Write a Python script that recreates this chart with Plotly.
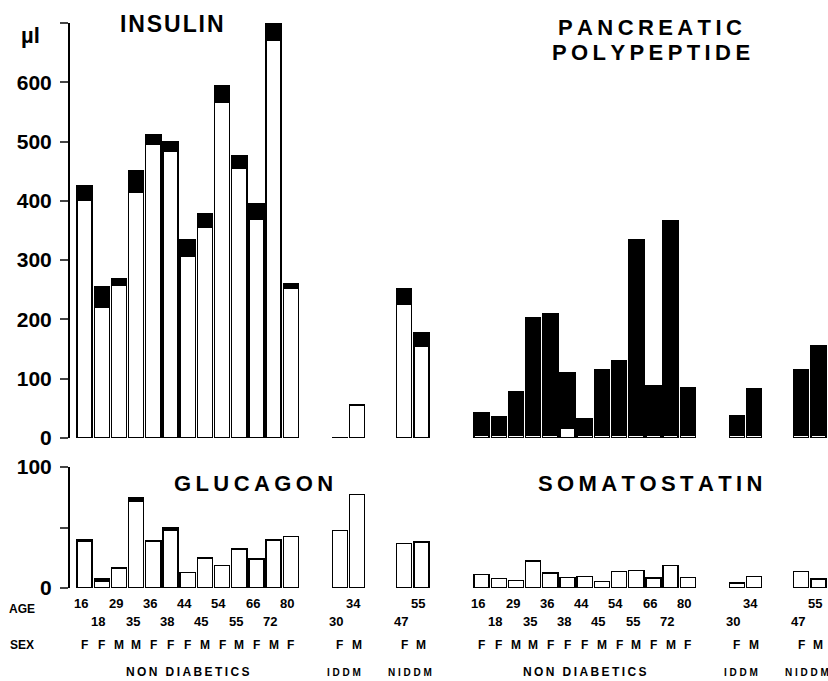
import plotly.graph_objects as go

# ---------------- data ----------------
nd_age = ["16", "18", "29", "35", "36", "38", "44", "45", "54", "55", "66", "72", "80"]
nd_sex = ["F", "F", "M", "M", "F", "F", "F", "M", "F", "M", "F", "M", "F"]
iddm_age = ["30", "34"]
iddm_sex = ["F", "M"]
niddm_age = ["47", "55"]
niddm_sex = ["F", "M"]

# Insulin (µl): white (lower) part and black (upper) part
ins_white_nd = [401, 221, 258, 415, 496, 483, 307, 355, 566, 455, 369, 671, 252]
ins_black_nd = [24, 34, 11, 36, 16, 17, 27, 23, 29, 22, 27, 27, 9]
ins_white_iddm = [1, 56]
ins_black_iddm = [0, 0]
ins_white_niddm = [226, 154]
ins_black_niddm = [25, 23]

# Pancreatic polypeptide
pp_white_nd = [5, 5, 5, 5, 5, 16, 5, 5, 5, 5, 5, 5, 5]
pp_black_nd = [37, 31, 73, 198, 204, 94, 28, 111, 126, 330, 83, 361, 80]
pp_white_iddm = [5, 5]
pp_black_iddm = [32, 79]
pp_white_niddm = [5, 5]
pp_black_niddm = [110, 151]

# Glucagon
glu_white_nd = [38.5, 5.5, 16.4, 72, 39, 47.5, 12.9, 24.7, 18.4, 32.3, 24.1, 39.3, 42.5]
glu_black_nd = [1.8, 1.9, 0, 2.8, 0, 2.1, 0, 0, 0, 0, 0, 1.0, 0]
glu_white_iddm = [47.4, 77.5]
glu_black_iddm = [0, 0]
glu_white_niddm = [37, 38]
glu_black_niddm = [0, 0]

# Somatostatin
som_white_nd = [11, 7.7, 6, 22, 12.3, 8.8, 9.3, 5.5, 13.7, 14.5, 8.2, 18.4, 8.8]
som_black_nd = [0, 0, 0, 0.8, 0, 0, 0, 0, 0, 0, 0, 0, 0]
som_white_iddm = [4, 9.3]
som_black_iddm = [0, 0]
som_white_niddm = [13.7, 7.4]
som_black_niddm = [0, 0]

top_ticks = [0, 100, 200, 300, 400, 500, 600, 700]
top_ticktext = ["0", "100", "200", "300", "400", "500", "600", ""]
bot_ticks = [0, 50, 100]
bot_ticktext = ["0", "", "100"]

group_names = ["NON DIABETICS", "IDDM", "NIDDM"]

# ---------------- layout helpers ----------------
W, H = 828, 681
ND_OFF, IDDM_OFF, NIDDM_OFF = 0.0, 14.85, 18.6
x_nd = [ND_OFF + i for i in range(len(nd_age))]
x_iddm = [IDDM_OFF + i for i in range(len(iddm_age))]
x_niddm = [NIDDM_OFF + i for i in range(len(niddm_age))]
xs = x_nd + x_iddm + x_niddm

FONT = "Liberation Sans"
BAR_W = 0.88
LINE = dict(color="black", width=1.4)

def px(y):
    return 1 - y / H

def spaced(s, sep="\u2009"):
    return sep.join(list(s))

fig = go.Figure()

panels = [
    ("x", "y", ins_white_nd + ins_white_iddm + ins_white_niddm, ins_black_nd + ins_black_iddm + ins_black_niddm),
    ("x2", "y2", pp_white_nd + pp_white_iddm + pp_white_niddm, pp_black_nd + pp_black_iddm + pp_black_niddm),
    ("x3", "y3", glu_white_nd + glu_white_iddm + glu_white_niddm, glu_black_nd + glu_black_iddm + glu_black_niddm),
    ("x4", "y4", som_white_nd + som_white_iddm + som_white_niddm, som_black_nd + som_black_iddm + som_black_niddm),
]
for xa, ya, white, black in panels:
    fig.add_trace(go.Bar(x=xs, y=white, xaxis=xa, yaxis=ya, width=BAR_W,
                         marker=dict(color="white", line=LINE), showlegend=False,
                         hoverinfo="skip"))
    fig.add_trace(go.Bar(x=xs, y=black, xaxis=xa, yaxis=ya, width=BAR_W,
                         marker=dict(color="black", line=LINE), showlegend=False,
                         hoverinfo="skip"))

xr = [-0.85, 20.1]
left_dom = [70 / W, 430 / W]
right_dom = [467 / W, 827 / W]
top_dom = [px(438), px(23)]
bot_dom = [px(588), px(467)]

xcommon = dict(range=xr, showgrid=False, zeroline=False, showline=False,
               showticklabels=False, ticks="", fixedrange=True, automargin=False)
tickfont = dict(family=FONT, size=21, color="black", weight="bold")

fig.update_layout(
    width=W, height=H, margin=dict(l=0, r=0, t=0, b=0, pad=0, autoexpand=False),
    paper_bgcolor="white", plot_bgcolor="white",
    barmode="stack", bargap=0,
    font=dict(family=FONT, color="black"),
    xaxis=dict(domain=left_dom, anchor="y", **xcommon),
    xaxis2=dict(domain=right_dom, anchor="y2", **xcommon),
    xaxis3=dict(domain=left_dom, anchor="y3", **xcommon),
    xaxis4=dict(domain=right_dom, anchor="y4", **xcommon),
    yaxis=dict(domain=top_dom, anchor="x", range=[0, 700], tickvals=top_ticks,
               ticktext=top_ticktext, ticks="outside", ticklen=8, tickwidth=2,
               showline=True, linecolor="black", linewidth=2, showgrid=False,
               zeroline=False, tickfont=tickfont, ticklabelstandoff=4,
               automargin=False, fixedrange=True),
    yaxis2=dict(domain=top_dom, anchor="x2", range=[0, 700], visible=False,
                automargin=False, fixedrange=True),
    yaxis3=dict(domain=bot_dom, anchor="x3", range=[0, 100], tickvals=bot_ticks,
                ticktext=bot_ticktext, ticks="outside", ticklen=8, tickwidth=2,
                showline=True, linecolor="black", linewidth=2, showgrid=False,
                zeroline=False, tickfont=tickfont, ticklabelstandoff=4,
                automargin=False, fixedrange=True),
    yaxis4=dict(domain=bot_dom, anchor="x4", range=[0, 100], visible=False,
                automargin=False, fixedrange=True),
)

ann = []
def txt(text, x, y, xref, size, xanchor="center"):
    ann.append(dict(text=text, x=x, y=y, xref=xref, yref="paper", showarrow=False,
                    xanchor=xanchor, yanchor="middle",
                    font=dict(family=FONT, size=size, color="black", weight="bold")))

# titles
txt(spaced("INSULIN", "\u200a"), 172 / W, px(24), "paper", 23)
txt(spaced("PANCREATIC"), 650 / W, px(28), "paper", 22)
txt(spaced("POLYPEPTIDE"), 651 / W, px(52), "paper", 22)
txt(spaced("GLUCAGON"), 253 / W, px(483), "paper", 22)
txt(spaced("SOMATOSTATIN"), 650 / W, px(483), "paper", 22)
txt("µl", 30 / W, px(36), "paper", 22)

# bottom labels
txt("AGE", 22 / W, px(609), "paper", 12)
txt("SEX", 22 / W, px(645), "paper", 12)
ages = nd_age + iddm_age + niddm_age
sexes = nd_sex + iddm_sex + niddm_sex
for xa in ["x3", "x4"]:
    for i, (xv, a) in enumerate(zip(xs, ages)):
        if i < len(nd_age):
            row = px(603) if i % 2 == 0 else px(621)
        else:
            row = px(621) if (i - len(nd_age)) % 2 == 0 else px(603)
        txt(a, xv - 0.2, row, xa, 13)
    for xv, s in zip(xs, sexes):
        txt(s, xv, px(645), xa, 12)
    txt(spaced(group_names[0]), (x_nd[0] + x_nd[-1]) / 2, px(672), xa, 12)
    txt(spaced(group_names[1], " "), sum(x_iddm) / 2 - 0.25, px(672), xa, 10)
    txt(spaced(group_names[2], " "), sum(x_niddm) / 2 - 0.15, px(672), xa, 10)

fig.update_layout(annotations=ann)
fig.write_html("out.html", config=dict(displayModeBar=False, staticPlot=True),
               post_script="document.body.style.margin='0';document.body.style.overflow='hidden';")
